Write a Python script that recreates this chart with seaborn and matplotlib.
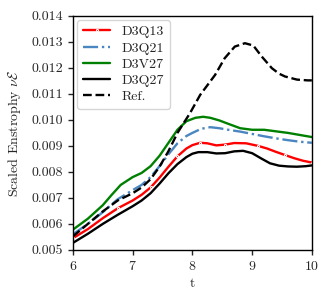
import matplotlib
matplotlib.use("Agg")
import matplotlib.pyplot as plt
import seaborn as sns
import numpy as np
import pandas as pd

# ---- data ----
t_q13 = [6.0, 6.25, 6.5, 6.75, 7.0, 7.15, 7.3, 7.45, 7.6, 7.75, 7.9, 8.0, 8.13, 8.25, 8.4, 8.55, 8.7, 8.9, 9.1, 9.25, 9.4, 9.55, 9.7, 9.85, 10.0]
v_q13 = [0.00545, 0.00580, 0.00622, 0.00660, 0.00690, 0.00712, 0.00740, 0.00778, 0.00820, 0.00860, 0.00890, 0.00903, 0.00912, 0.00910, 0.00902, 0.00905, 0.00911, 0.00910, 0.00900, 0.00890, 0.00877, 0.00865, 0.00853, 0.00843, 0.00836]

t_q21 = [6.0, 6.25, 6.5, 6.75, 7.0, 7.15, 7.3, 7.45, 7.6, 7.75, 7.9, 8.0, 8.15, 8.3, 8.45, 8.6, 8.8, 9.0, 9.2, 9.4, 9.6, 9.8, 10.0]
v_q21 = [0.00560, 0.00600, 0.00645, 0.00695, 0.00730, 0.00750, 0.00780, 0.00822, 0.00868, 0.00910, 0.00938, 0.00950, 0.00966, 0.00972, 0.00968, 0.00962, 0.00955, 0.00946, 0.00937, 0.00929, 0.00922, 0.00916, 0.00912]

t_v27 = [6.0, 6.25, 6.5, 6.65, 6.8, 7.0, 7.15, 7.3, 7.45, 7.6, 7.75, 7.9, 8.05, 8.18, 8.3, 8.45, 8.6, 8.8, 9.0, 9.2, 9.4, 9.6, 9.8, 10.0]
v_v27 = [0.00578, 0.00620, 0.00672, 0.00712, 0.00750, 0.00780, 0.00796, 0.00822, 0.00862, 0.00912, 0.00962, 0.00995, 0.01008, 0.01012, 0.01008, 0.00998, 0.00985, 0.00968, 0.00962, 0.00962, 0.00956, 0.00950, 0.00942, 0.00934]

t_q27 = [6.0, 6.25, 6.5, 6.75, 7.0, 7.15, 7.3, 7.45, 7.6, 7.75, 7.9, 8.0, 8.1, 8.25, 8.4, 8.55, 8.7, 8.85, 9.0, 9.15, 9.3, 9.45, 9.6, 9.75, 9.9, 10.0]
v_q27 = [0.00527, 0.00562, 0.00600, 0.00635, 0.00668, 0.00690, 0.00718, 0.00755, 0.00795, 0.00830, 0.00857, 0.00870, 0.00876, 0.00876, 0.00871, 0.00872, 0.00879, 0.00881, 0.00872, 0.00852, 0.00833, 0.00824, 0.00821, 0.00820, 0.00822, 0.00825]

t_ref = [6.0, 6.25, 6.5, 6.75, 7.0, 7.15, 7.3, 7.45, 7.6, 7.75, 7.96, 8.13, 8.38, 8.54, 8.71, 8.88, 9.02, 9.16, 9.33, 9.45, 9.55, 9.75, 9.93, 10.0]
v_ref = [0.00552, 0.00600, 0.00648, 0.00690, 0.00718, 0.00740, 0.00772, 0.00820, 0.00880, 0.00950, 0.01026, 0.01096, 0.01173, 0.01237, 0.01282, 0.01295, 0.01286, 0.01244, 0.01199, 0.01178, 0.01167, 0.01155, 0.01152, 0.01152]

x_ticks = [6, 7, 8, 9, 10]
y_ticks = [0.005, 0.006, 0.007, 0.008, 0.009, 0.010, 0.011, 0.012, 0.013, 0.014]

sns.set_style("ticks")
plt.rcParams["font.family"] = ["cmr10", "DejaVu Serif"]
plt.rcParams["mathtext.fontset"] = "cm"
plt.rcParams["axes.formatter.use_mathtext"] = True
FS = 10

fig = plt.figure(figsize=(3.3, 3.0), dpi=100)
ax = fig.add_axes([0.221, 0.167, 0.724, 0.78])

LW = 1.7
sns.lineplot(x=t_q13, y=v_q13, ax=ax, color="red", lw=LW, marker=".", markersize=3,
             markevery=3, label="D3Q13")
sns.lineplot(x=t_q21, y=v_q21, ax=ax, color="#4a86c0", lw=LW, linestyle="-.", label="D3Q21")
sns.lineplot(x=t_v27, y=v_v27, ax=ax, color="green", lw=LW, label="D3V27")
sns.lineplot(x=t_q27, y=v_q27, ax=ax, color="black", lw=LW, label="D3Q27")
sns.lineplot(x=t_ref, y=v_ref, ax=ax, color="black", lw=LW, linestyle="--", label="Ref.")

ax.set_xlim(6, 10)
ax.set_ylim(0.005, 0.014)
ax.set_xticks(x_ticks)
ax.set_yticks(y_ticks)
ax.set_yticklabels([f"{v:.3f}" for v in y_ticks])
ax.set_xlabel("t", fontsize=FS)
ax.set_ylabel(r"Scaled Enstrophy $\nu\mathcal{E}$", fontsize=FS, labelpad=6)
for s in ax.spines.values():
    s.set_linewidth(1.0)
    s.set_color("black")
ax.tick_params(labelsize=FS, width=1.0, length=3.5)
ax.legend(loc="upper left", fontsize=FS, frameon=True, handlelength=2.0,
          borderaxespad=0.3, labelspacing=0.25)

fig.savefig("out.png", dpi=100)
